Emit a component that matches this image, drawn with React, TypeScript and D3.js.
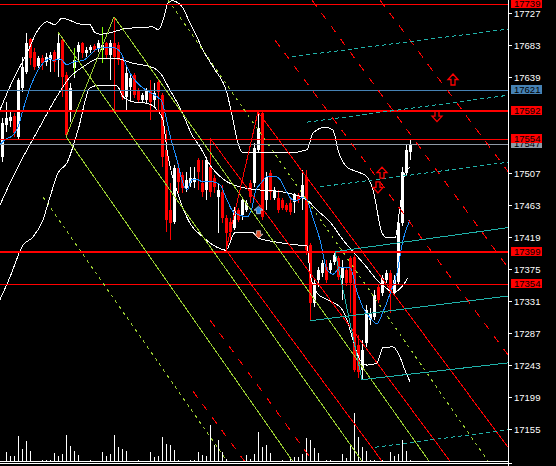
import React from 'react';
import * as d3 from 'd3';

// ---------- DATA ----------
// OHLC per bar: [open, high, low, close]
const candles: [number, number, number, number][] = [
  [17529, 17583, 17522, 17576], [17573, 17605, 17564, 17583], [17579, 17591, 17570, 17584], [17586, 17590, 17557, 17562],
  [17557, 17638, 17553, 17635], [17624, 17667, 17618, 17653], [17646, 17700, 17643, 17686], [17691, 17693, 17656, 17665],
  [17674, 17679, 17649, 17653], [17654, 17668, 17652, 17665], [17665, 17669, 17649, 17658], [17660, 17672, 17654, 17667],
  [17662, 17674, 17646, 17669], [17674, 17676, 17646, 17660], [17662, 17701, 17639, 17686], [17690, 17693, 17612, 17639],
  [17642, 17646, 17557, 17559], [17594, 17631, 17577, 17624], [17652, 17669, 17638, 17662], [17674, 17687, 17662, 17683],
  [17686, 17687, 17665, 17672], [17672, 17680, 17667, 17676], [17676, 17683, 17672, 17680], [17682, 17685, 17674, 17676],
  [17679, 17690, 17674, 17686], [17676, 17687, 17669, 17683], [17686, 17687, 17665, 17669], [17669, 17690, 17635, 17686],
  [17686, 17722, 17594, 17667], [17683, 17687, 17656, 17662], [17662, 17665, 17608, 17612], [17612, 17653, 17594, 17645],
  [17625, 17645, 17605, 17638], [17642, 17645, 17610, 17614], [17621, 17624, 17605, 17608], [17608, 17617, 17605, 17614],
  [17608, 17624, 17603, 17621], [17621, 17635, 17580, 17605], [17608, 17631, 17598, 17617], [17632, 17635, 17594, 17618],
  [17614, 17617, 17515, 17529], [17539, 17566, 17426, 17443], [17456, 17493, 17415, 17438], [17440, 17518, 17437, 17514],
  [17514, 17521, 17480, 17495], [17504, 17509, 17480, 17487], [17487, 17509, 17481, 17498], [17493, 17515, 17488, 17500],
  [17495, 17515, 17487, 17500], [17525, 17528, 17484, 17509], [17493, 17525, 17474, 17481], [17484, 17529, 17470, 17525],
  [17515, 17555, 17474, 17481], [17500, 17504, 17480, 17488], [17474, 17493, 17425, 17484], [17481, 17491, 17438, 17445],
  [17445, 17449, 17401, 17425], [17440, 17445, 17415, 17426], [17432, 17460, 17429, 17456], [17456, 17459, 17440, 17443],
  [17449, 17474, 17443, 17470], [17456, 17470, 17454, 17466], [17493, 17498, 17466, 17474], [17493, 17548, 17488, 17542],
  [17539, 17591, 17535, 17569], [17590, 17591, 17443, 17447], [17470, 17509, 17456, 17502], [17507, 17511, 17470, 17481],
  [17473, 17488, 17470, 17484], [17473, 17484, 17452, 17456], [17470, 17473, 17456, 17459], [17463, 17466, 17454, 17456],
  [17466, 17473, 17449, 17454], [17467, 17480, 17452, 17477], [17477, 17480, 17466, 17470], [17473, 17511, 17456, 17491],
  [17502, 17511, 17394, 17401], [17408, 17411, 17304, 17328], [17328, 17360, 17323, 17356], [17360, 17378, 17350, 17374],
  [17370, 17388, 17364, 17383], [17378, 17388, 17356, 17360], [17374, 17388, 17370, 17383], [17385, 17399, 17381, 17394],
  [17390, 17393, 17360, 17364], [17363, 17388, 17333, 17378], [17374, 17377, 17352, 17356], [17390, 17393, 17315, 17356],
  [17392, 17394, 17234, 17236], [17271, 17284, 17225, 17234], [17236, 17278, 17223, 17264], [17273, 17326, 17268, 17319],
  [17305, 17322, 17298, 17315], [17309, 17346, 17305, 17339], [17350, 17353, 17328, 17333], [17342, 17367, 17338, 17363],
  [17360, 17374, 17356, 17370], [17370, 17374, 17315, 17342], [17342, 17367, 17338, 17360], [17357, 17449, 17353, 17438],
  [17438, 17515, 17434, 17509], [17507, 17546, 17503, 17539], [17536, 17553, 17525, 17547],
];

const volumes: number[] = [
  5, 90, 47, 47, 247, 117, 197, 97, 5, 5, 7, 7, 13, 77, 47, 67, 257, 147, 100, 57,
  5, 5, 7, 5, 5, 87, 47, 67, 257, 137, 117, 100, 5, 5, 7, 5, 5, 87, 40, 47,
  237, 167, 157, 107, 7, 5, 5, 7, 7, 87, 57, 47, 357, 157, 207, 90, 23, 5, 5, 5,
  5, 57, 23, 67, 287, 137, 157, 77, 5, 5, 7, 5, 23, 40, 37, 67, 227, 207, 127, 77,
  5, 7, 7, 5, 5, 67, 33, 147, 477, 237, 137, 97, 7, 7, 5, 7, 5, 87, 47, 67,
  207, 97, 7,
];

// Bollinger bands and fast MA: [bar index, price]
const bbUpper: [number, number][] = [
  [-0.5, 17594], [2.75, 17635], [6.25, 17672], [9, 17704], [11.25, 17715], [13.25, 17711], [15, 17720],
  [19.5, 17712], [22, 17711], [23.25, 17700], [24.5, 17698], [27.75, 17701], [30.25, 17705], [33.75, 17707],
  [37.75, 17708], [39, 17704], [40, 17713], [40.75, 17727], [41.5, 17741], [42.5, 17744], [43.75, 17742],
  [45.25, 17734], [47, 17713], [48.75, 17694], [50.25, 17676], [52, 17660], [53.25, 17649], [56.25, 17617],
  [57.75, 17580], [59, 17548], [60.25, 17535], [62.75, 17536], [72, 17535], [76.25, 17539], [77.75, 17562],
  [80.75, 17570], [82.75, 17566], [84, 17539], [86.25, 17515], [88.75, 17509], [91.25, 17502], [92.75, 17484],
  [95, 17425], [96.25, 17418], [98.25, 17418], [99.5, 17460], [100.75, 17507], [102, 17515],
];
const bbMiddle: [number, number][] = [
  [-0.5, 17463], [2.75, 17502], [6.25, 17539], [9, 17566], [13.25, 17608], [17, 17639], [20.25, 17653],
  [24.5, 17665], [28.25, 17665], [32.75, 17658], [37.75, 17652], [39.5, 17645], [42, 17621], [44.5, 17597],
  [47.75, 17557], [49.5, 17543], [52, 17518], [55.75, 17497], [59.5, 17488], [64, 17484], [70.25, 17481],
  [76.25, 17470], [78.75, 17456], [82, 17440], [85.25, 17415], [88.75, 17393], [91.25, 17377], [93.75, 17360],
  [96.25, 17348], [97.75, 17343], [99.5, 17348], [101.5, 17363],
];
const bbLower: [number, number][] = [
  [-0.5, 17333], [2, 17364], [5.25, 17408], [7.75, 17419], [10.25, 17443], [12, 17474], [14, 17507],
  [16.25, 17521], [19, 17566], [22, 17624], [24.5, 17628], [28.75, 17627], [30.25, 17612], [32.75, 17605],
  [36.25, 17603], [38.75, 17594], [40.25, 17580], [41.25, 17539], [44.5, 17470], [47, 17438], [50.25, 17419],
  [53.75, 17405], [56, 17401], [58.25, 17425], [60.25, 17425], [62.75, 17425], [64, 17418], [68.75, 17412],
  [74.5, 17408], [76.25, 17408], [77, 17370], [78.75, 17342], [81.25, 17333], [84.5, 17323], [86.25, 17305],
  [87.75, 17278], [89.5, 17250], [91.25, 17243], [93.75, 17246], [95.25, 17267], [97.75, 17268], [99.5, 17254],
  [100.75, 17236], [102, 17220],
];
const maFast: [number, number][] = [
  [-0.5, 17546], [0.75, 17553], [2.75, 17559], [4, 17570], [5.25, 17594], [7, 17624], [8.75, 17646],
  [10.25, 17658], [12, 17665], [12.75, 17662], [14.5, 17664], [16.25, 17656], [17, 17658], [18.25, 17660],
  [20.25, 17662], [22, 17669], [23.25, 17676], [24.5, 17679], [26.25, 17680], [28.25, 17679], [29.5, 17674],
  [31.25, 17653], [32.75, 17638], [35.25, 17624], [37, 17618], [38.75, 17612], [40, 17605], [41, 17584],
  [42, 17559], [43.75, 17525], [45.25, 17493], [46.25, 17484], [47.5, 17498], [48.75, 17498], [50.25, 17495],
  [52.75, 17495], [54.5, 17491], [56.25, 17470], [57.75, 17454], [59.5, 17449], [61.25, 17447], [62.5, 17459],
  [63.25, 17480], [65, 17495], [66.5, 17503], [68.25, 17503], [69.5, 17498], [71.25, 17480], [72.75, 17470],
  [74, 17470], [75.25, 17474], [76.25, 17470], [77.75, 17445], [79.5, 17415], [81.25, 17374], [82.75, 17368],
  [84.5, 17377], [87, 17377], [88.75, 17344], [90.25, 17322], [92, 17308], [93.75, 17300], [95.25, 17316],
  [97, 17341], [98.75, 17370], [100.25, 17415], [102, 17443],
];

// Trend objects: [index1, price1, index2, price2]
const greenSolid: number[][] = [
  [16, 17557, 28, 17722], [16, 17557, 72.65, 17111], [14, 17701, 90, 17111], [28, 17722, 106.75, 17111],
];
const greenDashed: number[][] = [
  [10.25, 17474, 56.25, 17111], [41.5, 17745, 121.5, 17111],
];
const redSolid: number[][] = [
  [56, 17401, 64, 17591], [52, 17555, 112, 17111], [64, 17591, 126.5, 17130], [56, 17401, 95, 17111],
];
const redDashed: number[][] = [
  [47.75, 17207, 60.6, 17111], [52, 17305, 77.7, 17111], [68.25, 17690, 126.5, 17257],
  [77.5, 17745, 126.5, 17377], [94.5, 17745, 126.5, 17509],
];
const cyanSolid: number[][] = [
  [83.25, 17399, 90, 17223], [90, 17223, 126.5, 17246], [77, 17304, 126.5, 17338], [83.25, 17399, 126.5, 17432],
];
const cyanDashed: number[][] = [
  [79.5, 17488, 126.5, 17522], [72.5, 17667, 126.5, 17705], [76.25, 17577, 126.5, 17614], [93.25, 17130, 126.5, 17154],
];
const greenMarks: number[][] = [[18, 17679, 17642], [25, 17708, 17658]];

const redLevelsThick = [17592, 17399];
const redLevelsThin = [17739, 17554, 17354];
const blueLevel = 17621;
const bidLevel = 17547;

const priceTicks = [17727, 17683, 17639, 17507, 17463, 17419, 17375, 17331, 17287, 17243, 17199, 17155, 17111];
const redTags = [17739, 17592, 17554, 17399, 17354];

const upHollow: [number, number][] = [[112.75, 17635], [95, 17507]];
const downHollow: [number, number][] = [[108.75, 17586], [94, 17488]];
const buySignals: [number, number][] = [[64, 17456]];
const sellSignals: [number, number][] = [[64, 17423]];

// ---------- CHART ----------
const W = 556, H = 466;
const AXIS_X = 508;
const BOTTOM = 461;
const FONT = "'Liberation Sans', Arial, sans-serif";

export default function App() {
  const x = d3.scaleLinear().domain([0, 126.5]).range([2, AXIS_X]);
  const y = d3.scaleLinear().domain([17745, 17111]).range([0, 461.1]);
  const vol = d3.scaleLinear().domain([0, 1000]).range([BOTTOM, BOTTOM - 100]);

  const line = d3.line<[number, number]>().x(d => x(d[0])).y(d => y(d[1])).curve(d3.curveMonotoneX);

  const segs = (arr: number[][], color: string, dash?: string, key = '') =>
    arr.map((s, i) => (
      <line key={key + i} x1={x(s[0])} y1={y(s[1])} x2={x(s[2])} y2={y(s[3])}
        stroke={color} strokeWidth={1} strokeDasharray={dash} shapeRendering="crispEdges" />
    ));

  const hline = (p: number, color: string, w: number, key: string) => {
    const yy = Math.round(y(p)) + (w === 1 ? 0.5 : 0);
    return <line key={key} x1={0} x2={AXIS_X} y1={yy} y2={yy} stroke={color} strokeWidth={w} shapeRendering="crispEdges" />;
  };

  const tag = (p: number, bg: string, key: string) => {
    const yy = Math.round(y(p));
    return (
      <g key={key}>
        <rect x={511} y={yy - 5.5} width={31} height={9.5} fill={bg} shapeRendering="crispEdges" />
        <text x={514} y={yy + 3.2} fontSize={9.5} fill="#000" fontFamily={FONT}>{p}</text>
      </g>
    );
  };

  const hollowArrow = (cx: number, cy: number, up: boolean, key: string) => {
    const s = up ? 1 : -1;
    const pts = [[0, -6], [5, -0.5], [2, -0.5], [2, 5], [-2, 5], [-2, -0.5], [-5, -0.5]]
      .map(([a, b]) => `${cx + a},${cy + s * b}`).join(' ');
    return <polygon key={key} points={pts} fill="none" stroke="#ff0000" strokeWidth={1.3} />;
  };
  const solidArrow = (cx: number, cy: number, up: boolean, fill: string, key: string) => {
    const s = up ? 1 : -1;
    const pts = [[0, -4], [4.5, 0], [2, 0], [2, 3.5], [-2, 3.5], [-2, 0], [-4.5, 0]]
      .map(([a, b]) => `${cx + a},${cy + s * b}`).join(' ');
    return <polygon key={key} points={pts} fill={fill} stroke="#e8eef5" strokeWidth={0.6} />;
  };

  return (
    <svg width={W} height={H} style={{ position: 'absolute', left: 0, top: 0, background: '#000' }}
      xmlns="http://www.w3.org/2000/svg">
      <defs>
        <clipPath id="plot"><rect x={0} y={0} width={AXIS_X} height={BOTTOM} /></clipPath>
      </defs>
      <rect x={0} y={0} width={W} height={H} fill="#000" />

      <g clipPath="url(#plot)">
        {/* volumes */}
        {volumes.map((v, i) => {
          const cx = Math.round(x(i)) + 0.5;
          return <line key={'v' + i} x1={cx} x2={cx} y1={vol(0)} y2={vol(v)} stroke="#fff" strokeWidth={1} shapeRendering="crispEdges" />;
        })}

        {/* candles */}
        {candles.map((c, i) => {
          const [o, h, l, cl] = c;
          const cx = Math.round(x(i));
          const up = cl >= o;
          const col = up ? '#ffffff' : '#ff0000';
          const top = Math.round(y(Math.max(o, cl)));
          const bot = Math.round(y(Math.min(o, cl)));
          return (
            <g key={'c' + i}>
              <line x1={cx + 0.5} x2={cx + 0.5} y1={Math.round(y(h))} y2={Math.round(y(l))} stroke={col} shapeRendering="crispEdges" />
              <rect x={cx - 1} y={top} width={3} height={Math.max(1, bot - top)} fill={col} shapeRendering="crispEdges" />
            </g>
          );
        })}
        {greenMarks.map((m, i) => (
          <line key={'gm' + i} x1={Math.round(x(m[0])) + 0.5} x2={Math.round(x(m[0])) + 0.5} y1={y(m[1])} y2={y(m[2])}
            stroke="#7fff00" shapeRendering="crispEdges" />
        ))}

        {/* indicators */}
        <path d={line(bbUpper) || ''} fill="none" stroke="#ffffff" strokeWidth={1} shapeRendering="crispEdges" />
        <path d={line(bbMiddle) || ''} fill="none" stroke="#ffffff" strokeWidth={1} shapeRendering="crispEdges" />
        <path d={line(bbLower) || ''} fill="none" stroke="#ffffff" strokeWidth={1} shapeRendering="crispEdges" />
        <path d={line(maFast) || ''} fill="none" stroke="#1e90ff" strokeWidth={1} shapeRendering="crispEdges" />

        {/* horizontal levels */}
        {hline(blueLevel, '#4682b4', 1, 'hb')}
        {hline(bidLevel, '#8f9aa6', 1, 'hg')}
        {redLevelsThin.map((p, i) => hline(p, '#ff0000', 1, 'ht' + i))}
        {redLevelsThick.map((p, i) => hline(p, '#ff0000', 2, 'hk' + i))}

        {/* pitchforks */}
        {segs(greenSolid, '#9acd32', undefined, 'gs')}
        {segs(greenDashed, '#9acd32', '3,4', 'gd')}
        {segs(redSolid, '#ff0000', undefined, 'rs')}
        {segs(redDashed, '#ff0000', '8,8', 'rd')}
        {segs(cyanSolid, '#20b2aa', undefined, 'cs')}
        {segs(cyanDashed, '#20b2aa', '4,3', 'cd')}

        {/* arrows */}
        {upHollow.map((a, i) => hollowArrow(x(a[0]), y(a[1]), true, 'uh' + i))}
        {downHollow.map((a, i) => hollowArrow(x(a[0]), y(a[1]), false, 'dh' + i))}
        {buySignals.map((a, i) => solidArrow(x(a[0]) + 0.5, y(a[1]), true, '#2f86dc', 'bs' + i))}
        {sellSignals.map((a, i) => solidArrow(x(a[0]) + 0.5, y(a[1]), false, '#e2522c', 'ss' + i))}
      </g>

      {/* frame */}
      <line x1={0} x2={AXIS_X} y1={BOTTOM + 0.5} y2={BOTTOM + 0.5} stroke="#fff" shapeRendering="crispEdges" />
      <line x1={0} x2={AXIS_X} y1={BOTTOM + 2.5} y2={BOTTOM + 2.5} stroke="#fff" shapeRendering="crispEdges" />
      <line x1={AXIS_X + 0.5} x2={AXIS_X + 0.5} y1={0} y2={H} stroke="#fff" shapeRendering="crispEdges" />

      {/* price axis */}
      {priceTicks.map((p, i) => {
        const yy = Math.round(y(p)) + 0.5;
        const isLast = p === 17111;
        return (
          <g key={'t' + i}>
            <line x1={AXIS_X} x2={AXIS_X + 4} y1={isLast ? yy + 2 : yy} y2={isLast ? yy + 2 : yy} stroke="#fff" shapeRendering="crispEdges" />
            <text x={514} y={isLast ? yy + 11 : yy + 3.3} fontSize={9.5} fill="#fff" fontFamily={FONT}>{p}</text>
          </g>
        );
      })}

      {/* price tags */}
      {tag(bidLevel, '#8f9aa6', 'tg')}
      {redTags.map((p, i) => tag(p, '#ff0000', 'tr' + i))}
      {tag(blueLevel, '#4682b4', 'tb')}
    </svg>
  );
}
